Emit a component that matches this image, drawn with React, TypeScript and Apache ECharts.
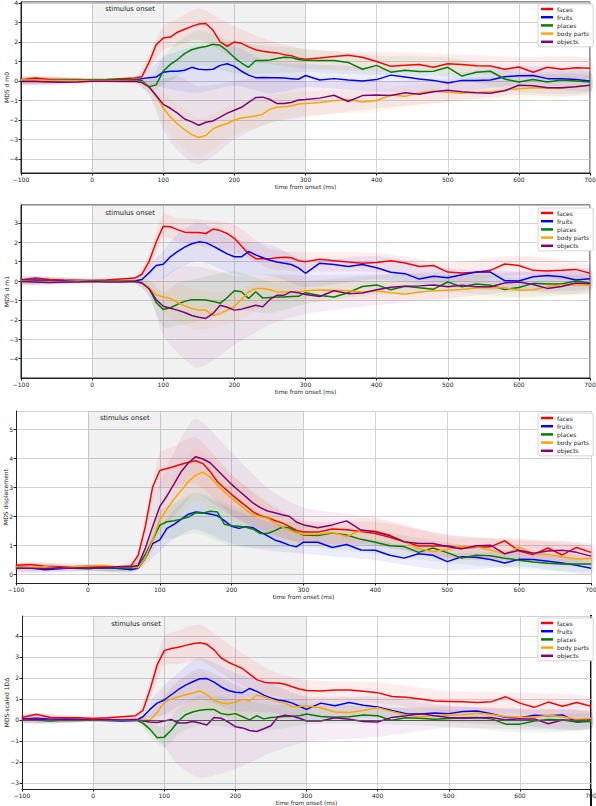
import React, { useEffect, useRef } from "react";
import * as echarts from "echarts";

// time grid (ms from onset)
const T = [-100, -80, -60, -40, -20, 0, 20, 40, 60,
  70, 80, 90, 100, 110, 120, 130, 140, 150, 160, 170, 180, 190, 200, 210, 220, 230, 240, 250, 260, 270, 280, 290, 300,
  320, 340, 360, 380, 400, 420, 440, 460, 480, 500, 520, 540, 560, 580, 600, 620, 640, 660, 680, 700];
// times at which the confidence band half-widths are read
const BAND_T = [-100, 0, 60, 80, 100, 120, 150, 200, 250, 300, 400, 500, 600, 700];

const CATEGORIES = ["faces", "fruits", "places", "body parts", "objects"];
const COLORS = ["#ff0000", "#0000ff", "#008000", "#ffa500", "#800080"];

// ---- panel 1 ----
const p1Faces = [0.05, 0.15, 0.08, 0.08, 0.07, 0.05, 0.08, 0.12, 0.15,
  0.22, 0.95, 1.85, 2.2, 2.25, 2.5, 2.65, 2.8, 2.92, 2.95, 2.6, 2.0, 1.78, 2.0, 1.93, 1.75, 1.6, 1.52, 1.47, 1.44, 1.35, 1.3, 1.17, 1.12,
  1.18, 1.25, 1.32, 1.22, 1.0, 0.75, 0.8, 0.85, 0.7, 0.88, 0.85, 0.78, 0.77, 0.6, 0.72, 0.45, 0.7, 0.6, 0.68, 0.65];
const p1Fruits = [0.0, 0.02, 0.0, 0.02, 0.03, 0.03, 0.05, 0.03, 0.05,
  0.12, 0.17, 0.2, 0.45, 0.5, 0.5, 0.55, 0.7, 0.6, 0.58, 0.6, 0.8, 0.88, 0.75, 0.5, 0.3, 0.17, 0.18, 0.17, 0.16, 0.15, 0.12, 0.09, 0.28,
  0.05, 0.12, 0.05, 0.0, 0.07, 0.3, 0.2, 0.1, 0.03, -0.1, 0.03, 0.03, 0.05, 0.22, 0.27, 0.28, 0.12, 0.12, 0.07, 0.0];
const p1Places = [0.03, 0.02, 0.03, 0.05, 0.05, 0.05, 0.05, 0.06, 0.05,
  0.02, -0.3, -0.2, 0.5, 0.85, 1.1, 1.4, 1.6, 1.7, 1.77, 1.88, 1.83, 1.55, 1.2, 0.92, 0.7, 1.05, 1.05, 1.08, 1.15, 1.22, 1.2, 1.1, 1.06,
  1.05, 1.05, 0.95, 0.6, 0.8, 0.45, 0.55, 0.48, 0.5, 0.7, 0.25, 0.45, 0.5, 0.1, -0.05, 0.07, -0.05, 0.05, 0.0, -0.05];
const p1Body = [0.05, 0.05, 0.02, 0.03, 0.03, 0.03, 0.03, 0.0, 0.0,
  -0.05, -0.3, -0.78, -1.4, -1.85, -2.2, -2.5, -2.75, -2.9, -2.8, -2.45, -2.3, -2.18, -2.0, -1.9, -1.85, -1.8, -1.7, -1.45, -1.35, -1.32, -1.28, -1.18, -1.15,
  -1.1, -1.02, -0.95, -1.08, -1.0, -0.72, -0.78, -0.6, -0.52, -0.58, -0.63, -0.58, -0.55, -0.47, -0.4, -0.35, -0.37, -0.38, -0.27, -0.22];
const p1Objects = [-0.03, -0.03, -0.05, -0.07, -0.05, -0.02, -0.02, -0.03, -0.02,
  -0.08, -0.3, -0.75, -1.2, -1.4, -1.65, -1.95, -2.1, -2.27, -2.12, -2.05, -1.85, -1.65, -1.5, -1.35, -1.1, -0.85, -0.83, -0.95, -1.16, -1.16, -1.1, -0.98, -0.95,
  -0.88, -0.73, -1.05, -0.75, -0.72, -0.75, -0.6, -0.68, -0.55, -0.48, -0.55, -0.6, -0.63, -0.5, -0.22, -0.25, -0.35, -0.35, -0.3, -0.22];
const p1BandFaces = [0.2, 0.1, 0.12, 0.4, 0.6, 0.7, 0.8, 0.8, 0.6, 0.5, 0.5, 0.5, 0.5, 0.5];
const p1BandFruits = [0.2, 0.1, 0.1, 0.4, 0.8, 1.0, 1.2, 1.0, 0.8, 0.6, 0.6, 0.5, 0.5, 0.5];
const p1BandPlaces = [0.15, 0.1, 0.1, 0.3, 0.7, 0.9, 0.9, 0.8, 0.7, 0.6, 0.5, 0.5, 0.5, 0.5];
const p1BandBody = [0.15, 0.1, 0.1, 0.3, 0.8, 1.0, 1.0, 0.8, 0.7, 0.6, 0.6, 0.5, 0.5, 0.4];
const p1BandObjects = [0.2, 0.1, 0.1, 0.4, 1.3, 1.9, 2.0, 1.5, 1.2, 0.9, 0.7, 0.6, 0.5, 0.5];

// ---- panel 2 ----
const p2Faces = [0.05, 0.15, 0.08, 0.05, 0.03, 0.03, 0.05, 0.1, 0.15,
  0.35, 1.0, 2.0, 2.83, 2.8, 2.65, 2.52, 2.5, 2.5, 2.45, 2.68, 2.6, 2.45, 2.2, 1.8, 1.4, 1.15, 1.15, 1.15, 1.2, 1.23, 1.2, 1.05, 1.0,
  1.12, 1.05, 0.98, 0.92, 0.95, 1.05, 0.93, 0.75, 0.8, 0.46, 0.42, 0.45, 0.55, 0.88, 0.8, 0.55, 0.52, 0.55, 0.6, 0.4];
const p2Fruits = [0.03, 0.05, 0.03, 0.02, 0.03, 0.02, 0.0, -0.02, 0.0,
  0.08, 0.42, 0.8, 0.86, 1.25, 1.52, 1.75, 1.92, 2.02, 1.98, 1.8, 1.6, 1.4, 1.25, 1.25, 1.52, 1.35, 1.2, 1.07, 0.98, 0.92, 0.85, 0.68, 0.4,
  0.92, 0.85, 0.75, 0.85, 0.68, 0.45, 0.38, 0.1, 0.25, 0.17, 0.32, 0.46, 0.46, 0.02, 0.0, 0.22, 0.28, 0.22, 0.05, 0.12];
const p2Places = [0.0, -0.02, -0.03, -0.05, 0.0, 0.02, 0.0, 0.0, 0.0,
  -0.1, -0.35, -1.1, -1.47, -1.38, -1.2, -1.05, -0.97, -0.96, -0.98, -1.05, -1.15, -0.85, -0.5, -0.55, -0.9, -0.55, -0.88, -0.85, -0.83, -0.82, -0.8, -0.79, -0.6,
  -0.75, -0.82, -0.6, -0.28, -0.2, -0.45, -0.27, -0.35, -0.42, -0.05, -0.3, -0.15, -0.22, -0.44, -0.33, -0.12, -0.15, -0.15, 0.0, -0.1];
const p2Body = [0.0, -0.02, -0.03, -0.02, 0.0, -0.02, -0.02, -0.03, -0.02,
  -0.08, -0.35, -0.7, -0.82, -0.9, -1.1, -1.28, -1.42, -1.5, -1.5, -1.78, -1.68, -1.5, -1.3, -0.95, -0.55, -0.39, -0.39, -0.45, -0.56, -0.56, -0.56, -0.56, -0.5,
  -0.46, -0.48, -0.5, -0.56, -0.51, -0.6, -0.68, -0.57, -0.5, -0.47, -0.44, -0.36, -0.34, -0.35, -0.48, -0.45, -0.3, -0.2, -0.2, -0.22];
const p2Objects = [-0.03, -0.05, -0.08, -0.05, -0.05, -0.03, -0.05, -0.05, -0.03,
  -0.1, -0.4, -0.95, -1.3, -1.4, -1.5, -1.62, -1.78, -1.87, -1.93, -1.67, -1.25, -1.35, -1.5, -1.45, -1.35, -1.25, -1.33, -0.95, -0.73, -0.73, -0.55, -0.6, -0.7,
  -0.8, -0.5, -0.65, -0.62, -0.45, -0.32, -0.27, -0.25, -0.2, -0.3, -0.22, -0.3, -0.3, -0.1, -0.05, -0.18, -0.38, -0.28, -0.1, -0.14];
const p2BandFaces = [0.2, 0.1, 0.12, 0.4, 0.6, 0.6, 0.7, 0.7, 0.5, 0.5, 0.5, 0.5, 0.5, 0.4];
const p2BandFruits = [0.2, 0.1, 0.1, 0.4, 0.7, 0.9, 1.0, 0.9, 0.8, 0.7, 0.6, 0.5, 0.5, 0.5];
const p2BandPlaces = [0.15, 0.1, 0.1, 0.4, 0.9, 1.1, 1.1, 1.0, 0.8, 0.6, 0.5, 0.5, 0.5, 0.4];
const p2BandBody = [0.15, 0.1, 0.1, 0.3, 0.8, 1.0, 1.0, 0.8, 0.7, 0.6, 0.5, 0.5, 0.4, 0.4];
const p2BandObjects = [0.2, 0.1, 0.1, 0.4, 1.5, 2.2, 2.6, 1.8, 1.3, 1.0, 0.8, 0.6, 0.5, 0.5];

// ---- panel 3 ----
const p3Faces = [0.3, 0.33, 0.27, 0.25, 0.25, 0.27, 0.25, 0.25, 0.28,
  0.65, 1.65, 3.0, 3.58, 3.65, 3.72, 3.8, 3.87, 3.92, 3.82, 3.55, 3.2, 2.97, 2.75, 2.55, 2.35, 2.15, 2.02, 1.95, 1.85, 1.77, 1.65, 1.52, 1.45,
  1.45, 1.56, 1.53, 1.47, 1.4, 1.27, 1.12, 0.97, 0.97, 0.98, 0.89, 0.93, 0.94, 1.15, 0.8, 0.67, 0.9, 0.66, 0.92, 0.75];
const p3Fruits = [0.25, 0.22, 0.15, 0.18, 0.22, 0.2, 0.22, 0.2, 0.15,
  0.2, 0.55, 1.05, 1.18, 1.58, 1.72, 1.9, 2.07, 2.15, 2.12, 2.08, 2.02, 1.85, 1.65, 1.58, 1.64, 1.6, 1.45, 1.32, 1.18, 1.1, 1.0, 0.94, 1.1,
  1.1, 0.92, 1.02, 0.83, 0.82, 0.65, 0.55, 0.7, 0.65, 0.43, 0.6, 0.58, 0.5, 0.38, 0.51, 0.5, 0.44, 0.38, 0.3, 0.2];
const p3Places = [0.2, 0.22, 0.2, 0.22, 0.2, 0.18, 0.22, 0.22, 0.2,
  0.28, 0.68, 1.18, 1.69, 1.81, 1.84, 1.9, 1.97, 2.12, 2.1, 2.17, 2.15, 1.72, 1.67, 1.65, 1.62, 1.55, 1.4, 1.4, 1.5, 1.62, 1.6, 1.45, 1.35,
  1.33, 1.42, 1.35, 1.2, 1.1, 0.98, 0.95, 0.75, 0.9, 0.74, 0.55, 0.65, 0.63, 0.55, 0.48, 0.42, 0.37, 0.35, 0.35, 0.35];
const p3Body = [0.25, 0.22, 0.25, 0.22, 0.25, 0.28, 0.3, 0.25, 0.25,
  0.22, 0.55, 1.18, 1.87, 2.25, 2.6, 2.9, 3.2, 3.42, 3.52, 3.35, 3.08, 2.83, 2.62, 2.42, 2.21, 2.05, 1.98, 1.93, 1.77, 1.63, 1.52, 1.43, 1.38,
  1.38, 1.44, 1.3, 1.5, 1.5, 1.35, 1.12, 0.88, 0.78, 0.85, 0.96, 0.94, 0.83, 0.69, 0.93, 0.7, 0.68, 0.6, 0.52, 0.54];
const p3Objects = [0.2, 0.2, 0.18, 0.22, 0.2, 0.2, 0.22, 0.25, 0.25,
  0.3, 0.9, 1.64, 2.33, 2.7, 3.12, 3.55, 3.85, 4.06, 3.98, 3.85, 3.6, 3.35, 3.1, 2.88, 2.67, 2.45, 2.3, 2.18, 2.12, 2.05, 2.0, 1.8, 1.7,
  1.6, 1.7, 1.84, 1.52, 1.46, 1.33, 1.12, 1.06, 1.06, 0.95, 0.87, 0.98, 1.0, 0.7, 0.82, 0.72, 0.8, 0.82, 0.75, 0.62];
const p3BandFaces = [0.12, 0.08, 0.1, 0.3, 0.6, 0.7, 0.8, 0.7, 0.5, 0.4, 0.4, 0.4, 0.35, 0.3];
const p3BandFruits = [0.12, 0.08, 0.1, 0.2, 0.4, 0.5, 0.6, 0.6, 0.5, 0.4, 0.35, 0.3, 0.25, 0.2];
const p3BandPlaces = [0.12, 0.08, 0.1, 0.25, 0.5, 0.6, 0.7, 0.7, 0.5, 0.4, 0.4, 0.35, 0.3, 0.25];
const p3BandBody = [0.12, 0.08, 0.1, 0.3, 0.6, 0.8, 0.9, 0.8, 0.6, 0.45, 0.4, 0.4, 0.3, 0.3];
const p3BandObjects = [0.15, 0.1, 0.1, 0.4, 0.8, 1.1, 1.3, 1.1, 0.8, 0.6, 0.5, 0.4, 0.4, 0.35];

// ---- panel 4 ----
const p4Faces = [0.12, 0.27, 0.12, 0.1, 0.1, 0.07, 0.1, 0.15, 0.2,
  0.45, 1.44, 2.62, 3.3, 3.4, 3.46, 3.55, 3.63, 3.68, 3.6, 3.34, 2.95, 2.75, 2.6, 2.45, 2.18, 1.92, 1.8, 1.76, 1.76, 1.7, 1.58, 1.47, 1.4,
  1.38, 1.43, 1.42, 1.37, 1.3, 1.12, 1.08, 1.0, 0.9, 0.88, 0.86, 0.83, 0.87, 1.1, 0.8, 0.6, 0.85, 0.65, 0.83, 0.65];
const p4Fruits = [0.05, 0.08, 0.03, 0.03, 0.02, 0.0, -0.03, -0.05, -0.03,
  0.15, 0.5, 0.8, 0.95, 1.2, 1.45, 1.66, 1.82, 1.96, 1.97, 1.8, 1.57, 1.4, 1.32, 1.3, 1.5, 1.36, 1.18, 1.05, 0.95, 0.9, 0.8, 0.65, 0.5,
  0.8, 0.68, 0.83, 0.7, 0.62, 0.45, 0.3, 0.28, 0.33, 0.3, 0.4, 0.42, 0.3, 0.12, 0.1, 0.22, 0.2, 0.24, -0.1, -0.03];
const p4Places = [0.0, -0.02, -0.05, -0.02, -0.03, 0.0, -0.02, -0.02, 0.0,
  -0.15, -0.45, -0.85, -0.82, -0.48, -0.05, 0.25, 0.38, 0.46, 0.5, 0.5, 0.3, 0.25, 0.3, 0.15, 0.0, 0.2, 0.05, 0.12, 0.14, 0.16, 0.17, 0.2, 0.28,
  0.16, 0.13, 0.15, 0.23, 0.2, -0.02, 0.1, 0.08, 0.03, 0.07, 0.1, 0.12, 0.05, -0.2, -0.2, -0.05, 0.02, 0.0, -0.1, -0.08];
const p4Body = [0.0, 0.02, 0.0, -0.03, 0.0, 0.0, 0.0, 0.0, 0.0,
  0.0, 0.0, 0.35, 0.85, 1.0, 1.1, 1.2, 1.28, 1.38, 1.2, 0.92, 0.82, 0.77, 0.85, 0.98, 0.9, 1.18, 1.1, 0.98, 0.87, 0.8, 0.62, 0.64, 0.66,
  0.58, 0.38, 0.35, 0.45, 0.58, 0.4, 0.24, 0.15, 0.2, 0.24, 0.25, 0.32, 0.26, 0.15, 0.13, 0.13, 0.22, 0.15, 0.03, 0.08];
const p4Objects = [0.05, 0.03, 0.0, 0.02, 0.02, 0.0, 0.02, 0.0, 0.02,
  -0.05, -0.1, -0.12, -0.05, 0.02, -0.15, -0.15, -0.08, -0.15, -0.24, 0.12, 0.08, -0.1, -0.32, -0.38, -0.5, -0.55, -0.42, -0.28, 0.15, 0.22, 0.18, 0.08, -0.05,
  -0.05, 0.1, 0.03, -0.08, -0.1, 0.12, 0.2, 0.3, 0.2, 0.12, 0.08, 0.1, 0.12, 0.0, 0.05, 0.05, -0.18, 0.0, -0.03, 0.0];
const p4BandFaces = [0.2, 0.1, 0.12, 0.4, 0.7, 0.8, 0.85, 0.8, 0.6, 0.5, 0.5, 0.5, 0.5, 0.45];
const p4BandFruits = [0.2, 0.1, 0.1, 0.4, 0.7, 0.8, 1.0, 0.9, 0.7, 0.6, 0.5, 0.4, 0.4, 0.4];
const p4BandPlaces = [0.15, 0.1, 0.1, 0.3, 0.5, 0.6, 0.7, 0.7, 0.6, 0.5, 0.4, 0.4, 0.4, 0.35];
const p4BandBody = [0.15, 0.1, 0.1, 0.3, 0.6, 0.8, 0.9, 0.8, 0.6, 0.5, 0.45, 0.4, 0.4, 0.35];
const p4BandObjects = [0.2, 0.1, 0.1, 0.4, 1.2, 2.0, 2.6, 2.0, 1.3, 1.0, 0.7, 0.5, 0.5, 0.4];

const Y_NAMES = ["MDS d m0", "MDS d m1", "MDS displacement", "MDS-scaled 1DΔ"];
const X_NAME = "time from onset (ms)";
const SPAN_LABEL = "stimulus onset";

const PANELS = [
  { values: [p1Faces, p1Fruits, p1Places, p1Body, p1Objects], bands: [p1BandFaces, p1BandFruits, p1BandPlaces, p1BandBody, p1BandObjects],
    yMin: -4.72, yMax: 4.05, split: 9, grid: { left: 21, top: 2, width: 569, height: 171 }, box: true, zero: false, legendTop: 4, labelOff: [13, 3], nameGap: 12 },
  { values: [p2Faces, p2Fruits, p2Places, p2Body, p2Objects], bands: [p2BandFaces, p2BandFruits, p2BandPlaces, p2BandBody, p2BandObjects],
    yMin: -5.0, yMax: 3.92, split: 9, grid: { left: 21, top: 205, width: 569, height: 173 }, box: true, zero: false, legendTop: 208, labelOff: [13, 4], nameGap: 12 },
  { values: [p3Faces, p3Fruits, p3Places, p3Body, p3Objects], bands: [p3BandFaces, p3BandFruits, p3BandPlaces, p3BandBody, p3BandObjects],
    yMin: -0.31, yMax: 5.64, split: 6, grid: { left: 16, top: 411, width: 575, height: 172 }, box: false, zero: false, legendTop: 413, labelOff: [12, 3], nameGap: 8 },
  { values: [p4Faces, p4Fruits, p4Places, p4Body, p4Objects], bands: [p4BandFaces, p4BandFruits, p4BandPlaces, p4BandBody, p4BandObjects],
    yMin: -3.29, yMax: 4.95, split: 8, grid: { left: 22, top: 616, width: 569, height: 173 }, box: false, zero: true, legendTop: 618, labelOff: [18, 4], nameGap: 13 },
];

const FONT = "DejaVu Sans";
const fmt = (v: number) => (v < 0 ? "\u2212" + Math.abs(v) : String(v));

function hexToRgba(hex: string, a: number) {
  const n = parseInt(hex.slice(1), 16);
  return `rgba(${(n >> 16) & 255},${(n >> 8) & 255},${n & 255},${a})`;
}

function buildOption() {
  const grid: any[] = [];
  const xAxis: any[] = [];
  const yAxis: any[] = [];
  const series: any[] = [];
  const legend: any[] = [];
  const graphic: any[] = [];

  PANELS.forEach((p, pi) => {
    grid.push({ ...p.grid, containLabel: false, outerBoundsMode: "none", show: p.box, borderColor: "#222", borderWidth: 1, backgroundColor: "transparent" });
    xAxis.push({
      type: "value", gridIndex: pi, min: -100, max: 700, interval: 100,
      name: X_NAME, nameLocation: "middle", nameGap: 11, nameMoveOverlap: false,
      nameTextStyle: { fontFamily: FONT, fontSize: 5.8, color: "#222" },
      axisLine: { show: true, onZero: false, lineStyle: { color: "#222", width: 1 } },
      axisTick: { show: true, length: 2.5, lineStyle: { color: "#222" } },
      axisLabel: { fontFamily: FONT, fontSize: 6, color: "#222", margin: 3, formatter: fmt },
      splitLine: { show: true, lineStyle: { color: "#c8c8c8", width: 0.8 } },
    });
    yAxis.push({
      type: "value", gridIndex: pi, min: p.yMin, max: p.yMax, splitNumber: p.split,
      name: Y_NAMES[pi], nameLocation: "middle", nameGap: p.nameGap, nameRotate: 90, nameMoveOverlap: false,
      nameTextStyle: { fontFamily: FONT, fontSize: 6, color: "#222" },
      axisLine: { show: true, onZero: false, lineStyle: { color: "#222", width: 1 } },
      axisTick: { show: true, length: 2.5, lineStyle: { color: "#222" } },
      axisLabel: { fontFamily: FONT, fontSize: 6, color: "#222", margin: 3, showMinLabel: false, showMaxLabel: false,
        formatter: (v: number) => (Math.abs(v - Math.round(v)) < 1e-6 ? fmt(Math.round(v)) : "") },
      splitLine: { show: true, lineStyle: { color: "#c8c8c8", width: 0.8 } },
    });

    // shaded stimulus window
    series.push({
      type: "line", xAxisIndex: pi, yAxisIndex: pi, data: [], silent: true, z: 0,
      markArea: {
        silent: true,
        itemStyle: { color: "rgba(0,0,0,0.055)" },
        label: { show: true, position: p.labelOff, formatter: SPAN_LABEL, fontFamily: FONT, fontSize: 6.8, color: "#222" },
        data: [[{ xAxis: 0 }, { xAxis: 300 }]],
      },
    });

    // bands
    CATEGORIES.forEach((c, ci) => {
      const vals = p.values[ci];
      const hw = p.bands[ci];
      const pts = BAND_T.map((t, i) => {
        const v = vals[T.indexOf(t)];
        return [t, v - hw[i], v + hw[i]];
      });
      series.push({
        type: "custom", xAxisIndex: pi, yAxisIndex: pi, silent: true, z: 1,
        data: pts, encode: { x: 0, y: [1, 2] },
        renderItem: (params: any, api: any) => {
          if (params.dataIndex !== 0) return null;
          const up = pts.map((d) => api.coord([d[0], d[2]]));
          const lo = pts.map((d) => api.coord([d[0], d[1]])).reverse();
          return { type: "polygon", shape: { points: up.concat(lo), smooth: 0.25 }, style: { fill: hexToRgba(COLORS[ci], 0.07) } };
        },
      });
    });

    // lines
    CATEGORIES.forEach((c, ci) => {
      const s: any = {
        type: "line", name: c, xAxisIndex: pi, yAxisIndex: pi, z: 3,
        data: T.map((t, i) => [t, p.values[ci][i]]),
        showSymbol: false, symbol: "none",
        lineStyle: { color: COLORS[ci], width: 1.5 }, itemStyle: { color: COLORS[ci] },
      };
      if (p.zero && ci === 0) {
        s.markLine = { silent: true, symbol: "none", label: { show: false }, lineStyle: { color: "#555", width: 1, type: "solid" }, data: [{ yAxis: 0 }] };
      }
      series.push(s);
    });

    legend.push({
      data: CATEGORIES, orient: "vertical", left: 538, top: p.legendTop,
      icon: "rect", itemWidth: 12, itemHeight: 2.5, itemGap: 2.2,
      padding: [2, 4, 2, 3], backgroundColor: "#ffffff", borderColor: "#cccccc", borderWidth: 0.8, borderRadius: 2,
      textStyle: { fontFamily: FONT, fontSize: 6, color: "#222", padding: [0, 0, 0, -1] },
      selectedMode: false,
    });
  });

  // right spine of the last panel
  graphic.push({ type: "line", shape: { x1: 591, y1: 615, x2: 591, y2: 806 }, style: { stroke: "#111", lineWidth: 2 } });

  return { animation: false, backgroundColor: "#ffffff", grid, xAxis, yAxis, series, legend, graphic };
}

export default function App() {
  const ref = useRef<HTMLDivElement>(null);
  useEffect(() => {
    document.body.style.margin = "0";
    if (!ref.current) return;
    const chart = echarts.init(ref.current, null, { renderer: "svg" });
    chart.setOption(buildOption());
    return () => chart.dispose();
  }, []);
  return <div ref={ref} style={{ width: 596, height: 806 }} />;
}
